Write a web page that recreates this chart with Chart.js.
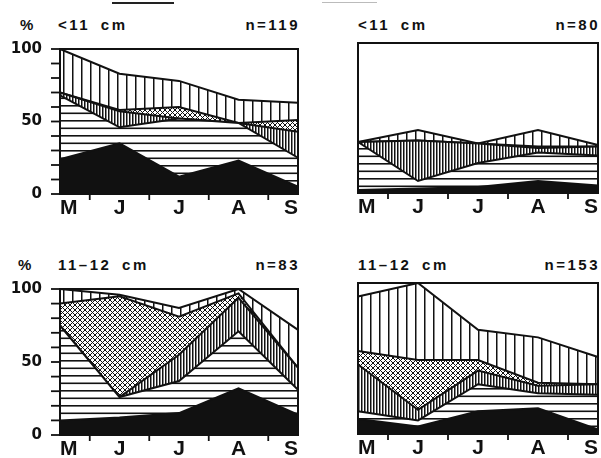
<!DOCTYPE html>
<html>
<head>
<meta charset="utf-8">
<script src="https://cdn.jsdelivr.net/npm/chart.js@4.4.0/dist/chart.umd.min.js"></script>
<style>
  body { margin: 0; background: #fff; width: 601px; height: 458px; position: relative; overflow: hidden; font-family: 'Liberation Sans', Arial, sans-serif; }
  canvas { position: absolute; }
  .txt { position: absolute; font-weight: bold; font-size: 15px; line-height: 1; letter-spacing: 2.5px; word-spacing: 4px; color: #111; white-space: nowrap; }
  .right { text-align: right; }
  .scan { position: absolute; background: #222; }
</style>
</head>
<body>
<div class="scan" style="left:112px; top:2px; width:62px; height:2px;"></div>
<div class="scan" style="left:322px; top:2px; width:55px; height:1px; background:#bbb;"></div>

<div class="txt" style="left:20px; top:17px;">%</div>
<div class="txt" style="left:58px; top:17px;">&lt;11 cm</div>
<div class="txt right" style="left:200px; width:100px; top:17px;">n=119</div>
<div class="txt" style="left:358px; top:17px;">&lt;11 cm</div>
<div class="txt right" style="left:500px; width:100px; top:17px;">n=80</div>

<div class="txt" style="left:18px; top:257px;">%</div>
<div class="txt" style="left:58px; top:257px;">11–12 cm</div>
<div class="txt right" style="left:200px; width:100px; top:257px;">n=83</div>
<div class="txt" style="left:358px; top:257px;">11–12 cm</div>
<div class="txt right" style="left:500px; width:100px; top:257px;">n=153</div>

<canvas id="c1"></canvas>
<canvas id="c2"></canvas>
<canvas id="c3"></canvas>
<canvas id="c4"></canvas>

<script>
// Months along the bottom axis
const months = ['M', 'J', 'J', 'A', 'S'];
// Labelled y ticks and the small marks every 10 %
const yLabelStep = 50;
const yMinorTicks = [0, 10, 20, 30, 40, 50, 60, 70, 80, 90, 100];

// Share of each category (%), stacked bottom to top:
// black, horizontal lines, dense vertical, cross-hatch, sparse vertical
// <11 cm, n=119
const p1Black  = [24, 35, 12, 23, 5];
const p1Horiz  = [44, 11, 40, 26, 20];
const p1Dense  = [2, 11, 0, 0, 18];
const p1Cross  = [0, 1, 8, 0, 8];
const p1Sparse = [30, 25, 18, 16, 12];

// <11 cm, n=80
const p2Black  = [2, 3, 4, 8, 5];
const p2Horiz  = [32, 5, 16, 19, 20];
const p2Dense  = [0, 27, 13, 3, 6];
const p2Cross  = [0, 0, 0, 1, 0];
const p2Sparse = [0, 7, 0, 11, 1];

// 11-12 cm, n=83
const p3Black  = [10, 12, 15, 32, 14];
const p3Horiz  = [65, 14, 22, 39, 17];
const p3Dense  = [0, 0, 18, 23, 15];
const p3Cross  = [15, 69, 26, 3, 0];
const p3Sparse = [10, 1, 6, 3, 26];

// 11-12 cm, n=153
const p4Black  = [10, 5, 15, 17, 3];
const p4Horiz  = [5, 4, 18, 10, 23];
const p4Dense  = [31, 7, 9, 5, 7];
const p4Cross  = [9, 33, 7, 2, 0];
const p4Sparse = [36, 51, 20, 30, 18];

const INK = '#111';
const FONT = "'Liberation Sans', Arial, sans-serif";

// Hatch patterns
function makePattern(ctx, w, h, draw) {
    const c = document.createElement('canvas');
    c.width = w;
    c.height = h;
    const g = c.getContext('2d');
    g.fillStyle = '#fff';
    g.fillRect(0, 0, w, h);
    g.fillStyle = INK;
    g.strokeStyle = INK;
    draw(g);
    return ctx.createPattern(c, 'repeat');
}

function patterns(ctx) {
    return {
        black: INK,
        horiz: makePattern(ctx, 4, 15, g => {
            g.fillRect(0, 0, 4, 1.6);
            g.fillRect(0, 7.5, 4, 1.6);
        }),
        dense: makePattern(ctx, 3, 4, g => {
            g.fillRect(0, 0, 1.5, 4);
        }),
        cross: makePattern(ctx, 5, 5, g => {
            g.lineWidth = 1;
            g.beginPath();
            g.moveTo(-1, -1); g.lineTo(6, 6);
            g.moveTo(6, -1); g.lineTo(-1, 6);
            g.stroke();
        }),
        sparse: makePattern(ctx, 9, 4, g => {
            g.fillRect(0, 0, 1.5, 4);
        })
    };
}

// Frame round the plot area plus the small tick marks
function drawFrame(chart, showY) {
    const ctx = chart.ctx;
    const a = chart.chartArea;
    const xs = chart.scales.x;
    const ys = chart.scales.y;
    ctx.save();
    ctx.strokeStyle = INK;
    ctx.lineWidth = 2;
    ctx.strokeRect(a.left, a.top, a.right - a.left, a.bottom - a.top);

    ctx.lineWidth = 1.8;
    if (showY) {
        yMinorTicks.forEach(v => {
            const y = ys.getPixelForValue(v);
            ctx.beginPath();
            ctx.moveTo(a.left - 9, y);
            ctx.lineTo(a.left, y);
            ctx.stroke();
        });
    }
    for (let i = 0; i < months.length - 1; i++) {
        const x = (xs.getPixelForValue(i) + xs.getPixelForValue(i + 1)) / 2;
        ctx.beginPath();
        ctx.moveTo(x, a.bottom);
        ctx.lineTo(x, a.bottom + 6);
        ctx.stroke();
    }
    ctx.restore();
}

function buildChart(id, box, series, showY) {
    const padTop = 15, yWidth = 60, xHeight = 34;
    const padRight = Math.min(12, 601 - box.right);
    const canvas = document.getElementById(id);
    canvas.width = yWidth + (box.right - box.left) + padRight;
    canvas.height = padTop + (box.bottom - box.top) + xHeight;
    canvas.style.left = (box.left - yWidth) + 'px';
    canvas.style.top = (box.top - padTop) + 'px';
    const ctx = canvas.getContext('2d');
    const pat = patterns(ctx);
    const keys = ['black', 'horiz', 'dense', 'cross', 'sparse'];

    new Chart(ctx, {
        type: 'line',
        data: {
            labels: months,
            datasets: series.map((values, i) => ({
                data: values,
                fill: i === 0 ? 'origin' : '-1',
                backgroundColor: pat[keys[i]],
                borderColor: INK,
                borderWidth: 2,
                pointRadius: 0,
                tension: 0
            }))
        },
        options: {
            responsive: false,
            animation: false,
            layout: { padding: { top: padTop, right: padRight, left: 0, bottom: 0 } },
            plugins: {
                legend: { display: false },
                tooltip: { enabled: false }
            },
            scales: {
                x: {
                    offset: false,
                    afterFit: s => { s.height = xHeight; },
                    border: { display: false },
                    grid: { display: false, tickLength: 5 },
                    ticks: {
                        align: 'inner',
                        maxRotation: 0,
                        autoSkip: false,
                        padding: -3,
                        color: INK,
                        font: { family: FONT, size: 21, weight: 'bold' }
                    }
                },
                y: {
                    stacked: true,
                    min: 0,
                    max: 100,
                    afterFit: s => { s.width = yWidth; },
                    border: { display: false },
                    grid: { display: false, tickLength: 8 },
                    ticks: {
                        display: showY,
                        stepSize: yLabelStep,
                        autoSkip: false,
                        padding: 10,
                        color: INK,
                        font: { family: "'DejaVu Sans', sans-serif", size: 15, weight: 'bold' }
                    }
                }
            }
        },
        plugins: [{ id: 'frame', afterDraw: chart => drawFrame(chart, showY) }]
    });
}

buildChart('c1', { left: 60, right: 298, top: 45, bottom: 194 },
    [p1Black, p1Horiz, p1Dense, p1Cross, p1Sparse], true);
buildChart('c2', { left: 358, right: 598, top: 43, bottom: 193 },
    [p2Black, p2Horiz, p2Dense, p2Cross, p2Sparse], false);
buildChart('c3', { left: 60, right: 298, top: 285, bottom: 435 },
    [p3Black, p3Horiz, p3Dense, p3Cross, p3Sparse], true);
buildChart('c4', { left: 358, right: 598, top: 283, bottom: 434 },
    [p4Black, p4Horiz, p4Dense, p4Cross, p4Sparse], false);
</script>
</body>
</html>
